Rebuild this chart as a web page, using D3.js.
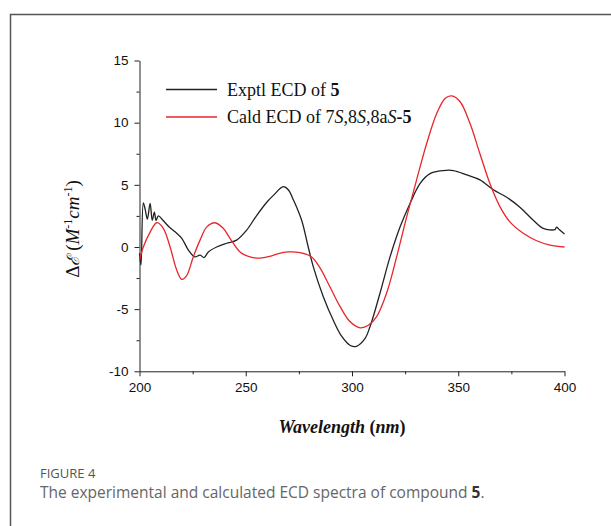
<!DOCTYPE html>
<html>
<head>
<meta charset="utf-8">
<script src="https://cdn.jsdelivr.net/npm/d3@7"></script>
<style>
  body { margin: 0; background: #fff; }
</style>
</head>
<body>
<div id="chart"></div>
<script>
// experimental ECD (black)
var exptWl = [200, 200.7, 201.8, 202.7, 203.7, 205, 206, 207, 207.8, 208.9, 211, 214, 217.5, 219.9, 223, 226, 228.5, 230.4, 232.4, 236.3, 241, 245.7, 250.4, 255.2, 259.9, 263, 267.7, 270, 272.4, 276.3, 279.4, 281.8, 286.5, 291.2, 295.2, 299, 302, 306, 308.5, 313.2, 317.9, 322.6, 327.3, 332, 336.7, 343, 347.7, 354, 360.2, 366.5, 372.8, 379, 385.3, 390, 395.5, 396.3, 397.5, 400];
var exptVal = [-0.5, -1.45, 3.55, 3.0, 2.25, 3.5, 2.15, 2.8, 2.15, 2.5, 2.15, 1.6, 1.1, 0.7, -0.25, -0.8, -0.65, -0.85, -0.4, 0.0, 0.3, 0.55, 1.35, 2.55, 3.6, 4.15, 4.85, 4.6, 3.8, 2.15, 0, -1.6, -4.0, -5.9, -7.2, -7.9, -8.0, -7.4, -6.4, -3.7, -0.8, 1.6, 3.5, 5.1, 5.9, 6.15, 6.15, 5.8, 5.4, 4.6, 4.0, 3.2, 2.15, 1.5, 1.4, 1.6, 1.4, 1.05];

// calculated ECD (red)
var calcWl = [200, 201.8, 205, 208.1, 211.2, 214.4, 217.5, 219.9, 222.2, 225.3, 228.5, 231.6, 235.5, 239.4, 242.6, 247.3, 252, 256.7, 261.4, 265, 270, 275.5, 281, 285, 289.6, 294.4, 299, 303.8, 307.7, 311.6, 316.3, 321, 325.7, 330.4, 335.1, 339.9, 343.8, 346.9, 350.8, 355.5, 360.2, 364.9, 369.6, 374.4, 380.6, 386.9, 393.2, 400];
var calcVal = [-1.05, 0, 1.2, 1.95, 1.5, 0, -1.85, -2.6, -2.3, -0.8, 0.55, 1.6, 1.95, 1.5, 0.7, -0.4, -0.8, -0.9, -0.75, -0.55, -0.4, -0.45, -0.8, -1.7, -3.2, -4.8, -6.0, -6.5, -6.3, -5.6, -3.7, -0.8, 2.4, 5.4, 8.3, 10.75, 11.95, 12.15, 11.7, 9.95, 7.5, 5.1, 3.25, 2.0, 1.1, 0.5, 0.15, 0.0];

var xTicks = [200, 250, 300, 350, 400];
var yTicks = [-10, -5, 0, 5, 10, 15];

var width = 611, height = 526;

var svg = d3.select('#chart').append('svg')
    .attr('width', width)
    .attr('height', height);

// frame round the figure
svg.append('rect')
    .attr('x', 10.5).attr('y', 14.5)
    .attr('width', 640).attr('height', 560)
    .attr('fill', 'none')
    .attr('stroke', '#555')
    .attr('stroke-width', 1.5);

var x = d3.scaleLinear().domain([200, 400]).range([139.5, 564.5]);
var y = d3.scaleLinear().domain([-10, 15]).range([371.3, 60.5]);
var fmt = function(d) { return String(d); };

// axes
svg.append('g')
    .attr('transform', 'translate(0,' + y(-10) + ')')
    .call(d3.axisBottom(x).tickValues(xTicks).tickFormat(fmt).tickSize(5).tickSizeOuter(0).tickPadding(6));
svg.append('g')
    .attr('transform', 'translate(0,' + y(-10) + ')')
    .call(d3.axisBottom(x).tickValues([225, 275, 325, 375]).tickSize(3).tickFormat(''))
    .select('.domain').remove();

svg.append('g')
    .attr('transform', 'translate(' + x(200) + ',0)')
    .call(d3.axisLeft(y).tickValues(yTicks).tickFormat(fmt).tickSize(5).tickSizeOuter(0).tickPadding(6));
svg.append('g')
    .attr('transform', 'translate(' + x(200) + ',0)')
    .call(d3.axisLeft(y).tickValues([-7.5, -2.5, 2.5, 7.5, 12.5]).tickSize(3).tickFormat(''))
    .select('.domain').remove();

svg.selectAll('.tick text')
    .attr('font-family', 'Liberation Sans, Arial, sans-serif')
    .attr('font-size', 13.5)
    .attr('fill', '#111');
svg.selectAll('.domain, .tick line').attr('stroke', '#222');

// curves
var line = d3.line().curve(d3.curveCatmullRom)
    .x(function(d) { return x(d[0]); })
    .y(function(d) { return y(d[1]); });

svg.append('path')
    .datum(d3.zip(exptWl, exptVal))
    .attr('d', line)
    .attr('fill', 'none')
    .attr('stroke', '#222')
    .attr('stroke-width', 1.3);

svg.append('path')
    .datum(d3.zip(calcWl, calcVal))
    .attr('d', line)
    .attr('fill', 'none')
    .attr('stroke', '#e8262a')
    .attr('stroke-width', 1.3);

// legend
var legend = svg.append('g')
    .attr('font-family', 'Liberation Serif, Times New Roman, serif')
    .attr('font-size', 18)
    .attr('fill', '#111');
legend.append('line').attr('x1', 166).attr('x2', 217).attr('y1', 89.5).attr('y2', 89.5)
    .attr('stroke', '#222').attr('stroke-width', 1.3);
legend.append('line').attr('x1', 166).attr('x2', 217).attr('y1', 117).attr('y2', 117)
    .attr('stroke', '#e8262a').attr('stroke-width', 1.3);

var t1 = legend.append('text').attr('x', 227).attr('y', 95.5);
t1.append('tspan').text('Exptl ECD of ');
t1.append('tspan').attr('font-weight', 'bold').text('5');

var t2 = legend.append('text').attr('x', 227).attr('y', 123);
t2.append('tspan').text('Cald ECD of 7');
t2.append('tspan').attr('font-style', 'italic').text('S');
t2.append('tspan').text(',8');
t2.append('tspan').attr('font-style', 'italic').text('S');
t2.append('tspan').text(',8a');
t2.append('tspan').attr('font-style', 'italic').text('S');
t2.append('tspan').attr('font-weight', 'bold').text('-5');

// axis titles
var xt = svg.append('text')
    .attr('x', 342).attr('y', 433)
    .attr('text-anchor', 'middle')
    .attr('font-family', 'Liberation Serif, Times New Roman, serif')
    .attr('font-size', 18)
    .attr('font-weight', 'bold')
    .attr('fill', '#111');
xt.append('tspan').attr('font-style', 'italic').text('Wavelength ');
xt.append('tspan').text('(');
xt.append('tspan').attr('font-style', 'italic').text('nm');
xt.append('tspan').text(')');

var yt = svg.append('text')
    .attr('transform', 'translate(79,229) rotate(-90)')
    .attr('text-anchor', 'middle')
    .attr('font-family', 'Liberation Serif, Times New Roman, serif')
    .attr('font-size', 19)
    .attr('fill', '#111');
yt.append('tspan').text('Δ');
yt.append('tspan').attr('font-style', 'italic').attr('font-family', 'DejaVu Serif, serif').attr('font-size', 17).text('ℰ');
yt.append('tspan').text(' (');
yt.append('tspan').attr('font-style', 'italic').text('M');
yt.append('tspan').attr('font-size', 12).attr('dy', -7).text('-1');
yt.append('tspan').attr('font-style', 'italic').attr('dy', 7).text('cm');
yt.append('tspan').attr('font-size', 12).attr('dy', -7).text('-1');
yt.append('tspan').attr('dy', 7).text(')');

// caption
svg.append('text')
    .attr('x', 40).attr('y', 478)
    .attr('font-family', 'Open Sans, sans-serif')
    .attr('font-size', 13)
    .attr('fill', '#555')
    .text('FIGURE 4');

var cap = svg.append('text')
    .attr('x', 40).attr('y', 498)
    .attr('font-family', 'Open Sans, sans-serif')
    .attr('font-size', 15.5)
    .attr('fill', '#666');
cap.append('tspan').text('The experimental and calculated ECD spectra of compound ');
cap.append('tspan').attr('font-weight', 'bold').attr('fill', '#333').text('5');
cap.append('tspan').text('.');
</script>
</body>
</html>
